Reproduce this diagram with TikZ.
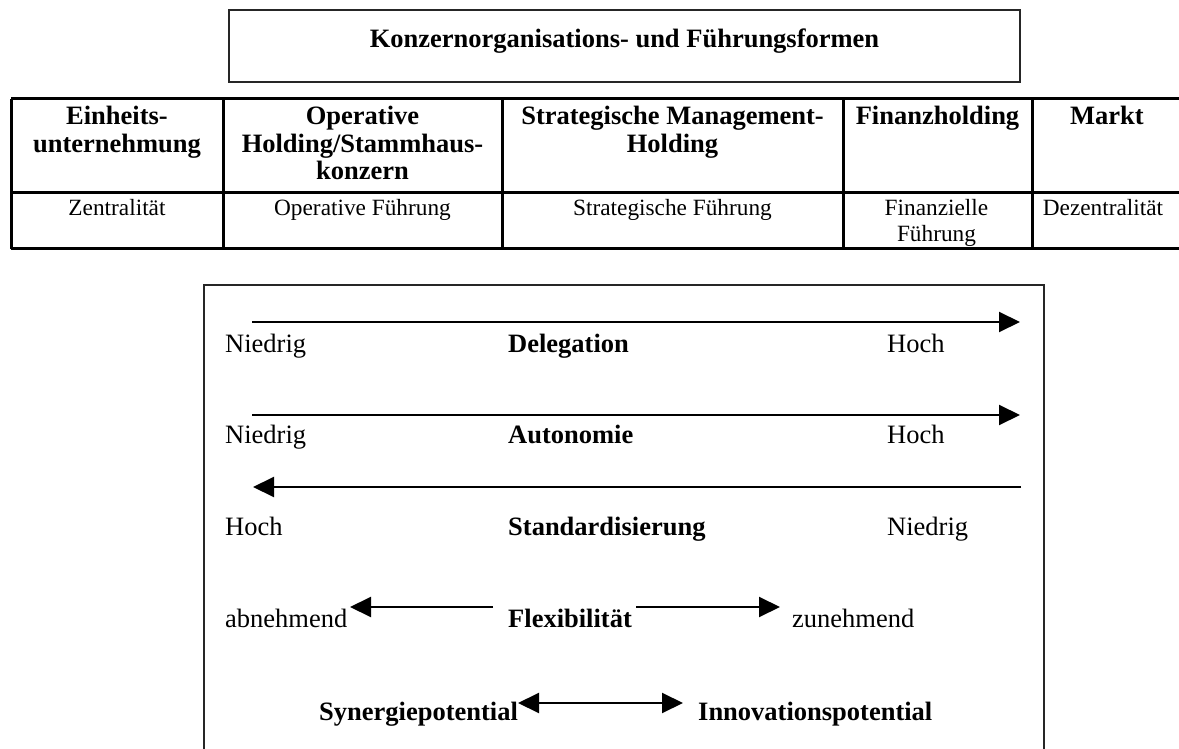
\documentclass[tikz,border=0pt]{standalone}
\usepackage{fontspec}
\setmainfont{Liberation Serif}
\usetikzlibrary{arrows.meta}
\begin{document}
\begin{tikzpicture}[x=1pt,y=-1pt,
  hdr/.style={font=\fontsize{26.5}{27.5}\selectfont\bfseries, align=center, anchor=base, inner sep=0pt},
  cell/.style={font=\fontsize{23.3}{26}\selectfont, align=center, anchor=base, inner sep=0pt},
  lbl/.style={font=\fontsize{26.5}{30}\selectfont, anchor=base west, inner sep=0pt},
  key/.style={font=\fontsize{26.5}{30}\selectfont\bfseries, anchor=base west, inner sep=0pt},
  grid/.style={line width=3pt},
  frame/.style={line width=2pt, draw=black!85},
  gauge/.style={line width=2pt, -{Triangle[length=21pt,width=20pt]}},
  gaugeboth/.style={line width=2pt, {Triangle[length=21pt,width=20pt]}-{Triangle[length=21pt,width=20pt]}}]

\useasboundingbox (0,0) rectangle (1179,749);
\fill[white] (0,0) rectangle (1179,749);
\clip (0,0) rectangle (1179,749);

% title box
\draw[frame] (229,10) rectangle (1020,82);
\node[key, anchor=base] (title) at (624.5,48) {Konzernorganisations- und Führungsformen};

% table grid (open to the right edge)
\draw[grid] (11,99) -- (1190,99);
\draw[grid] (11,192.5) -- (1190,192.5);
\draw[grid] (11,248.5) -- (1190,248.5);
\draw[grid] (11,99) -- (11,248.5);
\foreach \cx in {223,502,843,1032} \draw[grid] (\cx,99) -- (\cx,248.5);

% table header row (base anchor sits on the last line)
\node[hdr] (h1) at (117,152.5) {Einheits-\\unternehmung};
\node[hdr] (h2) at (362.5,180) {Operative\\Holding/Stammhaus-\\konzern};
\node[hdr] (h3) at (672.5,152.5) {Strategische Management-\\Holding};
\node[hdr] (h4) at (937.5,125) {Finanzholding};
\node[hdr] (h5) at (1107,125) {Markt};

% table second row
\node[cell] (c1) at (117,215) {Zentralität};
\node[cell] (c2) at (362.5,215) {Operative Führung};
\node[cell] (c3) at (672.5,215) {Strategische Führung};
\node[cell] (c4) at (936.5,241) {Finanzielle\\Führung};
\node[cell] (c5) at (1103,215) {Dezentralität};

% lower frame (runs past the bottom edge)
\draw[frame] (204,760) -- (204,285) -- (1044,285) -- (1044,760);

% arrow end points
\coordinate (d0) at (252,322);  \coordinate (d1) at (1020,322);
\coordinate (a0) at (252,415);  \coordinate (a1) at (1020,415);
\coordinate (s0) at (1021,487); \coordinate (s1) at (253,487);
\coordinate (f0) at (493,607);  \coordinate (f1) at (350,607);
\coordinate (f2) at (636,607);  \coordinate (f3) at (780,607);
\coordinate (y0) at (518,703);  \coordinate (y1) at (683,703);

\draw[gauge] (d0) -- (d1);
\draw[gauge] (a0) -- (a1);
\draw[gauge] (s0) -- (s1);
\draw[gauge] (f0) -- (f1);
\draw[gauge] (f2) -- (f3);
\draw[gaugeboth] (y0) -- (y1);

% labels
\node[lbl] (dl) at (225,352) {Niedrig};
\node[key] (dk) at (508,352) {Delegation};
\node[lbl] (dr) at (887,352) {Hoch};

\node[lbl] (al) at (225,443) {Niedrig};
\node[key] (ak) at (508,443) {Autonomie};
\node[lbl] (ar) at (887,443) {Hoch};

\node[lbl] (sl) at (225,535) {Hoch};
\node[key] (sk) at (508,535) {Standardisierung};
\node[lbl] (sr) at (887,535) {Niedrig};

\node[lbl] (fl) at (225,627) {abnehmend};
\node[key] (fk) at (508,627) {Flexibilität};
\node[lbl] (fr) at (792,627) {zunehmend};

\node[key] (yl) at (319,720) {Synergiepotential};
\node[key] (yr) at (698,720) {Innovationspotential};
\end{tikzpicture}
\end{document}
